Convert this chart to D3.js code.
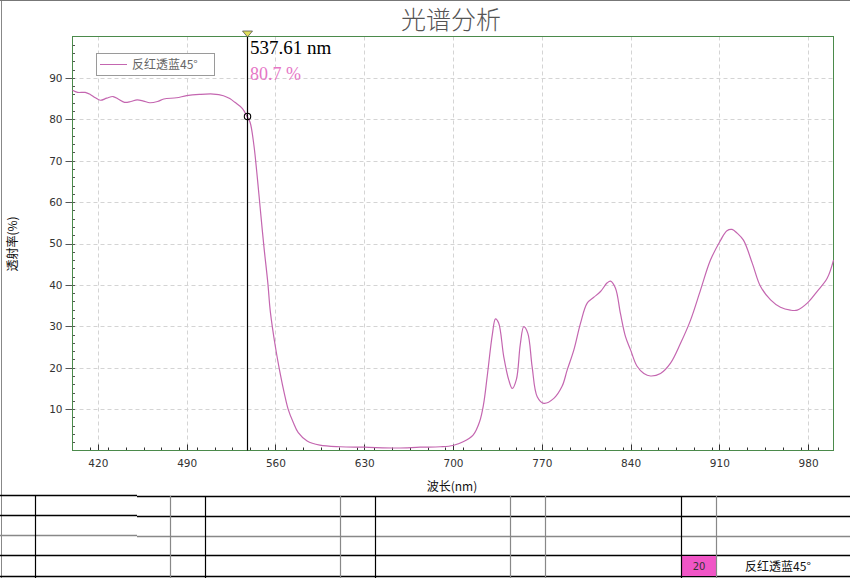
<!DOCTYPE html>
<html><head><meta charset="utf-8">
<script src="https://cdn.jsdelivr.net/npm/d3@7"></script>
<style>
html,body{margin:0;padding:0;background:#fff;}
svg{display:block;}
</style></head>
<body>
<svg id="chart" width="850" height="578"></svg>
<script>
// ---------- data ----------
const title = "光谱分析";
const seriesName = "反红透蓝45°";
const xTicks = [420, 490, 560, 630, 700, 770, 840, 910, 980];
const yTicks = [10, 20, 30, 40, 50, 60, 70, 80, 90];
const wavelength = [400,404,410,414,418,422,427,432,436,441,446,451,456,461,467,472,482,490,500,511,519,524,528,534,537.6,540,543,546,548,551,554,556,560,564,567,570,574,578,585,595,611,630,656,674,690,700,708,716,721,724,727,731,733.5,736,740,744,746.7,750,753,755.8,759,762.4,766.4,771.6,779.5,786,790,795.3,800.5,805.8,811,816.3,821.6,824.2,828.1,832,836,840,845,850.5,855.7,863.6,871.5,879.4,887.3,895.2,903,911,916,920,924,929,936,942.5,950.4,958.2,966,971.4,979.3,987,995,1000];
const transmittance = [87.0,86.5,86.5,86.0,85.2,84.6,85.1,85.5,84.9,84.1,84.3,84.7,84.4,84.0,84.3,84.9,85.2,85.7,86.0,86.1,85.7,85.0,84.1,82.6,80.7,79.3,73.8,65.0,58.5,49.0,40.5,33.5,25.0,18.2,13.8,10.0,6.8,4.3,2.3,1.3,0.9,0.8,0.6,0.8,0.9,1.2,2.1,3.8,7.0,11.0,18.0,28.0,31.8,30.8,22.7,17.0,15.0,17.2,25.5,29.9,28.3,20.2,13.0,11.4,12.6,15.5,19.4,24.3,30.7,35.6,37.0,38.4,40.5,40.9,39.2,33.1,27.5,24.3,20.4,18.6,18.0,18.6,21.1,25.9,31.5,38.8,46.0,50.8,53.1,53.4,52.5,50.8,45.2,39.6,36.4,34.6,33.9,33.9,35.6,38.4,41.6,46.0];
const cursorX = 537.61;
const cursorY = 80.7;
const tableCode = "20";

// ---------- layout ----------
const svg = d3.select("#chart");
const L = 72.5, R = 833.5, T = 36.5, B = 450.5;
const x = d3.scaleLinear().domain([400, 1000]).range([L, R]);
const y = d3.scaleLinear().domain([0, 100]).range([B, T]);
const curveColor = "#c466b0";
const frameGreen = "#4b8a4b";

// outer frame
svg.append("line").attr("x1",1.5).attr("x2",1.5).attr("y1",0).attr("y2",578).attr("stroke","#888");
svg.append("line").attr("x1",0).attr("x2",850).attr("y1",0.5).attr("y2",0.5).attr("stroke","#777");

// title
svg.append("text").attr("x", 451).attr("y", 29).attr("text-anchor","middle")
  .attr("font-family","'Noto Sans CJK SC', sans-serif").attr("font-weight",300)
  .attr("font-size", 25).attr("fill","#555").text(title);

// grid
const g = svg.append("g");
g.selectAll(".gx").data(xTicks).join("line")
  .attr("x1", d => Math.round(x(d)) + 0.5).attr("x2", d => Math.round(x(d)) + 0.5)
  .attr("y1", T).attr("y2", B).attr("stroke","#d4d4d4").attr("stroke-dasharray","4,3");
g.selectAll(".gy").data(yTicks).join("line")
  .attr("y1", d => Math.round(y(d)) + 0.5).attr("y2", d => Math.round(y(d)) + 0.5)
  .attr("x1", L).attr("x2", R).attr("stroke","#d4d4d4").attr("stroke-dasharray","4,3");

// axes via d3
const xAxis = d3.axisBottom(x).tickValues(xTicks).tickSize(0).tickPadding(9).tickFormat(d3.format("d"));
const xa = svg.append("g").attr("transform", `translate(0,${B})`).call(xAxis);
xa.select(".domain").remove();
xa.selectAll("text").attr("font-family","'DejaVu Sans', sans-serif").attr("font-size",10.5).attr("fill","#333");

const yAxis = d3.axisLeft(y).tickValues(yTicks).tickSize(0).tickPadding(10);
const ya = svg.append("g").attr("transform", `translate(${L},0)`).call(yAxis);
ya.select(".domain").remove();
ya.selectAll("text").attr("font-family","'DejaVu Sans', sans-serif").attr("font-size",10.5).attr("fill","#333");

// major & minor ticks
const xMinor = d3.range(400, 1000.01, 14).filter(v => v > 400 && v < 1000);
svg.append("g").selectAll("line").data(xMinor).join("line")
  .attr("x1", d => Math.round(x(d)) + 0.5).attr("x2", d => Math.round(x(d)) + 0.5)
  .attr("y1", B).attr("y2", B - 3)
  .attr("stroke","#333");
svg.append("g").selectAll("line").data(xTicks).join("line")
  .attr("x1", d => Math.round(x(d)) + 0.5).attr("x2", d => Math.round(x(d)) + 0.5)
  .attr("y1", B).attr("y2", B - 6).attr("stroke","#333");
const yMinor = d3.range(2, 100, 2);
svg.append("g").selectAll("line").data(yMinor).join("line")
  .attr("y1", d => Math.round(y(d)) + 0.5).attr("y2", d => Math.round(y(d)) + 0.5)
  .attr("x1", L).attr("x2", L + 2.5).attr("stroke","#555");
svg.append("g").selectAll("line").data(yTicks).join("line")
  .attr("y1", d => Math.round(y(d)) + 0.5).attr("y2", d => Math.round(y(d)) + 0.5)
  .attr("x1", L - 7).attr("x2", L).attr("stroke","#555");

// plot frame
svg.append("rect").attr("x", L).attr("y", T).attr("width", R - L).attr("height", B - T)
  .attr("fill","none").attr("stroke", frameGreen).attr("stroke-width",1);

// axis titles
svg.append("text").attr("x", 452).attr("y", 491).attr("text-anchor","middle")
  .attr("font-family","'Noto Sans CJK SC', sans-serif").attr("font-size",12).attr("fill","#111").text("波长(nm)");
svg.append("text").attr("transform","translate(17,244) rotate(-90)").attr("text-anchor","middle")
  .attr("font-family","'Noto Sans CJK SC', sans-serif").attr("font-size",12).attr("fill","#111").text("透射率(%)");

// curve
const pts = wavelength.map((w, i) => [w, transmittance[i]]);
const line = d3.line().x(d => x(d[0])).y(d => y(d[1])).curve(d3.curveCatmullRom.alpha(0.5));
svg.append("path").datum(pts).attr("d", line).attr("fill","none")
  .attr("stroke", curveColor).attr("stroke-width", 1.2);

// legend
svg.append("rect").attr("x", 96.5).attr("y", 53.5).attr("width", 118).attr("height", 22)
  .attr("fill","#fff").attr("stroke","#9a9a9a");
svg.append("line").attr("x1", 100).attr("x2", 127).attr("y1", 64.5).attr("y2", 64.5)
  .attr("stroke", curveColor).attr("stroke-width",1);
svg.append("text").attr("x", 132).attr("y", 69).attr("font-family","'Noto Sans CJK SC', sans-serif")
  .attr("font-size",12).attr("fill","#666").text(seriesName);

// cursor
const cx = Math.round(x(cursorX)) + 0.5;
svg.append("line").attr("x1", cx).attr("x2", cx).attr("y1", 32).attr("y2", B)
  .attr("stroke","#000").attr("stroke-width",1.2);
svg.append("path").attr("d", `M${cx-5},31 L${cx+5},31 L${cx},37 Z`)
  .attr("fill","#dede5a").attr("stroke","#555").attr("stroke-width",0.8);
svg.append("circle").attr("cx", cx).attr("cy", y(cursorY)).attr("r", 3.2)
  .attr("fill","none").attr("stroke","#000").attr("stroke-width",1.1);
svg.append("text").attr("x", 250).attr("y", 54).attr("font-family","'Liberation Serif', serif")
  .attr("font-size",19).attr("fill","#000").text(`${cursorX} nm`);
svg.append("text").attr("x", 250).attr("y", 80).attr("font-family","'Liberation Serif', serif")
  .attr("font-size",18).attr("fill","#e676c6").text(`${cursorY} %`);

// bottom table
const tb = svg.append("g");
const hLines = [
  {x1:0, x2:137, y:495.5, c:"#000"}, {x1:137, x2:850, y:496.5, c:"#000"},
  {x1:0, x2:137, y:515.5, c:"#000"}, {x1:137, x2:850, y:516.5, c:"#000"},
  {x1:0, x2:137, y:535.5, c:"#888"}, {x1:137, x2:850, y:536.5, c:"#888"},
  {x1:0, x2:850, y:555.5, c:"#000"}, {x1:0, x2:850, y:576.5, c:"#000"}
];
tb.selectAll(".h").data(hLines).join("line")
  .attr("x1", d => d.x1).attr("x2", d => d.x2).attr("y1", d => d.y).attr("y2", d => d.y)
  .attr("stroke", d => d.c).attr("stroke-width", 1.3);
const vLines = [
  {x:35.5, c:"#000"}, {x:170.5, c:"#888"}, {x:205.5, c:"#000"}, {x:340.5, c:"#888"},
  {x:375.5, c:"#000"}, {x:510.5, c:"#888"}, {x:545.5, c:"#888"}, {x:681.5, c:"#000"}, {x:716.5, c:"#888"}
];
tb.append("rect").attr("x", 682).attr("y", 556).attr("width", 34).attr("height", 20).attr("fill","#f055c6");
tb.selectAll(".v").data(vLines).join("line")
  .attr("x1", d => d.x).attr("x2", d => d.x).attr("y1", d => d.x < 140 ? 495 : 496).attr("y2", 578)
  .attr("stroke", d => d.c).attr("stroke-width", 1.2);
tb.append("text").attr("x", 699).attr("y", 570).attr("text-anchor","middle")
  .attr("font-family","'DejaVu Sans', sans-serif").attr("font-size",10).attr("fill","#333").text(tableCode);
tb.append("text").attr("x", 778).attr("y", 571).attr("text-anchor","middle")
  .attr("font-family","'Noto Sans CJK SC', sans-serif").attr("font-size",12).attr("fill","#111").text(seriesName);
</script>
</body></html>
